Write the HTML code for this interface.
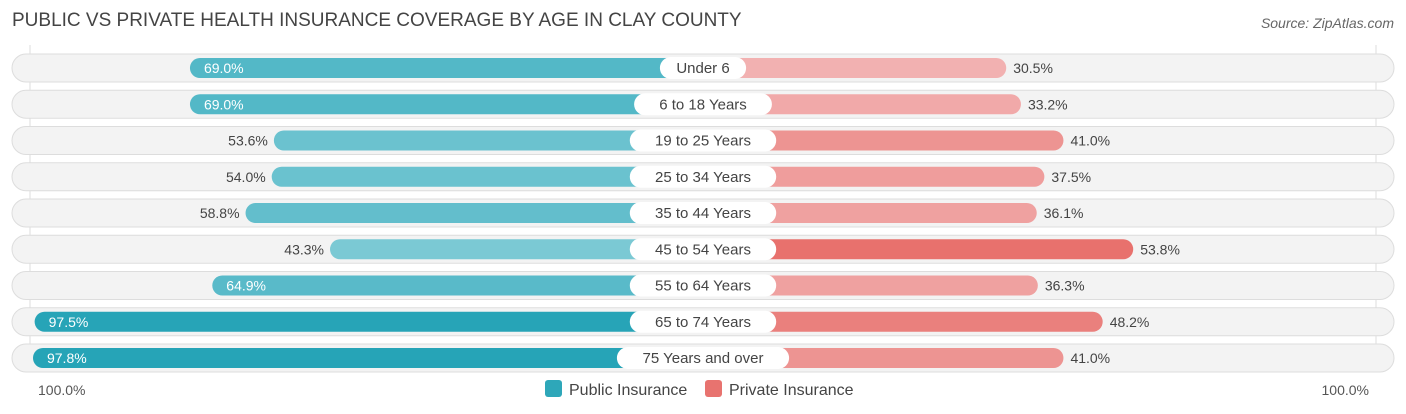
<!DOCTYPE html>
<html><head><meta charset="utf-8"><style>
body{margin:0;width:1406px;height:414px;background:#fff;font-family:"Liberation Sans",sans-serif;overflow:hidden;position:relative}
.t{position:absolute;left:12px;top:10px;font-size:19px;color:#444}
.s{position:absolute;right:12px;top:15px;font-size:14px;color:#666;font-style:italic}
</style></head><body>
<div class="t">PUBLIC VS PRIVATE HEALTH INSURANCE COVERAGE BY AGE IN CLAY COUNTY</div>
<div class="s">Source: ZipAtlas.com</div>
<svg id="c" width="1406" height="414" style="position:absolute;left:0;top:0"></svg>
<script>
const categories=["Under 6","6 to 18 Years","19 to 25 Years","25 to 34 Years","35 to 44 Years","45 to 54 Years","55 to 64 Years","65 to 74 Years","75 Years and over"];
const publicVals=[69.0,69.0,53.6,54.0,58.8,43.3,64.9,97.5,97.8];
const privateVals=[30.5,33.2,41.0,37.5,36.1,53.8,36.3,48.2,41.0];
const axisLabels=["100.0%","100.0%"];
const svg=document.getElementById('c');const NS='http://www.w3.org/2000/svg';
const center=703,off=137,k=5.45;
function xPub(v){return center-off-v*k;}
function xPriv(v){return center+off+v*k;}
function yRow(i){return 68+i*36.25;}
function mk(t,a,p){const e=document.createElementNS(NS,t);for(const n in a)e.setAttribute(n,a[n]);(p||svg).appendChild(e);return e;}
function mix(a,b,t){return 'rgb('+a.map((c,i)=>Math.round(c+(b[i]-c)*t)).join(',')+')';}
const l=mk('line',{x1:30,y1:45,x2:30,y2:372,stroke:'#ddd'});

const l2=mk('line',{x1:1376,y1:45,x2:1376,y2:372,stroke:'#ddd'});

categories.forEach((c,i)=>{
const y=yRow(i);
const g=mk('g',{});
const tr=mk('rect',{x:12,y:y-14,width:1382,height:28,rx:14,fill:'#f3f3f3',stroke:'#ddd'},g);

const pv=publicVals[i],qv=privateVals[i];
const tp=Math.min(1,Math.max(0,(pv-40)/58));
const x0=xPub(pv);
const b=mk('rect',{x:x0,y:y-10,width:center-x0,height:20,rx:10,fill:mix([128,203,214],[38,164,183],tp)},g);

const tq=Math.min(1,Math.max(0,(qv-30)/24));
const x1=xPriv(qv);
const b2=mk('rect',{x:center,y:y-10,width:x1-center,height:20,rx:10,fill:mix([242,178,178],[232,112,108],tq)},g);

const inside=pv>60;
const pt=mk('text',{x:inside?x0+14:x0-6,y:y+5,'font-size':14,fill:inside?'#fff':'#444','text-anchor':inside?'start':'end'},g);
pt.textContent=pv.toFixed(1)+'%';
const qt=mk('text',{x:x1+7,y:y+5,'font-size':14,fill:'#444'},g);
qt.textContent=qv.toFixed(1)+'%';
const w=c.length*8.6+26;
const lb=mk('rect',{x:center-w/2,y:y-11,width:w,height:22,rx:11,fill:'#fff'},g);

const ct=mk('text',{x:center,y:y+5,'font-size':15,fill:'#444','text-anchor':'middle'},g);
ct.textContent=c;
});
const a1=mk('text',{x:38,y:395,'font-size':14,fill:'#555'});a1.textContent=axisLabels[0];

const a2=mk('text',{x:1369,y:395,'font-size':14,fill:'#555','text-anchor':'end'});a2.textContent=axisLabels[1];

[[545,'#2ea7b9','Public Insurance'],[705,'#e8736f','Private Insurance']].forEach(([x,col,t])=>{
const r=mk('rect',{x:x,y:380,width:17,height:17,rx:3,fill:col});

const tx=mk('text',{x:x+24,y:395,'font-size':16,fill:'#444'});tx.textContent=t;

});
</script>
</body></html>
